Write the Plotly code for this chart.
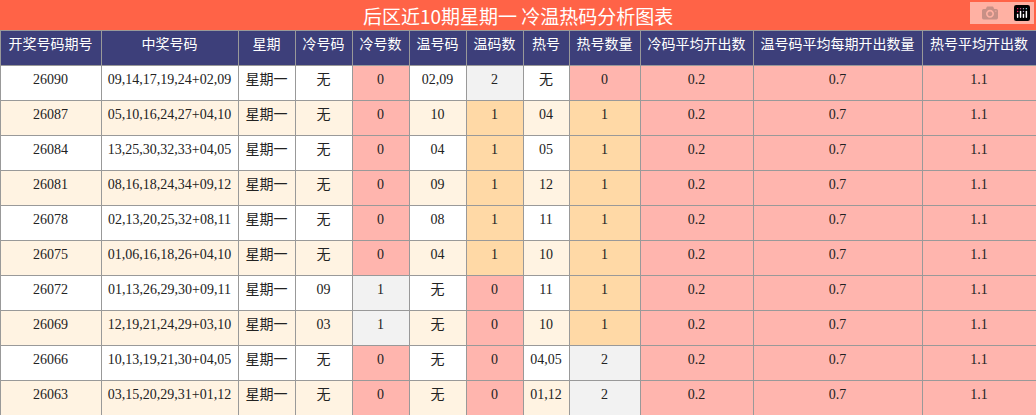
import plotly.graph_objects as go

headers = ["开奖号码期号","中奖号码","星期","冷号码","冷号数","温号码","温码数","热号","热号数量","冷码平均开出数","温号码平均每期开出数量","热号平均开出数"]
issues = ["26090","26087","26084","26081","26078","26075","26072","26069","26066","26063"]
numbers = ["09,14,17,19,24+02,09","05,10,16,24,27+04,10","13,25,30,32,33+04,05","08,16,18,24,34+09,12","02,13,20,25,32+08,11","01,06,16,18,26+04,10","01,13,26,29,30+09,11","12,19,21,24,29+03,10","10,13,19,21,30+04,05","03,15,20,29,31+01,12"]
weekday = ["星期一"]*10
cold = ["无","无","无","无","无","无","09","03","无","无"]
cold_n = [0,0,0,0,0,0,1,1,0,0]
warm = ["02,09","10","04","09","08","04","无","无","无","无"]
warm_n = [2,1,1,1,1,1,0,0,0,0]
hot = ["无","04","05","12","11","10","11","10","04,05","01,12"]
hot_n = [0,1,1,1,1,1,1,1,2,2]
cold_avg = ["0.2"]*10
warm_avg = ["0.7"]*10
hot_avg = ["1.1"]*10
title = "后区近10期星期一 冷温热码分析图表"

widths = [101,137,57,57,57,57,57,46,71,113,169,114]
PINK, ORANGE, GRAY = "#FFB5AE", "#FFD9A6", "#F2F2F2"
base = ["#FFFFFF" if i % 2 == 0 else "#FFF3E2" for i in range(10)]
def cnt_col(vals):
    return [PINK if v == 0 else (ORANGE if v == 1 else GRAY) for v in vals]
cold_col = [PINK if v == 0 else GRAY for v in cold_n]
fills = [base, base, base, base, cold_col, base, cnt_col(warm_n), base, cnt_col(hot_n), [PINK]*10, [PINK]*10, [PINK]*10]

fig = go.Figure(go.Table(
    columnwidth=widths,
    domain=dict(x=[0, 1], y=[0, 385/415]),
    header=dict(values=headers, height=35, fill_color="#3D3F7A",
                line_color="#999999", align="center",
                font=dict(color="white", size=14, family="Noto Sans CJK SC")),
    cells=dict(values=[issues, numbers, weekday, cold, [str(v) for v in cold_n], warm,
                       [str(v) for v in warm_n], hot, [str(v) for v in hot_n], cold_avg, warm_avg, hot_avg],
               height=35, fill_color=fills, line_color="#999999", align="center",
               font=dict(color="#222222", size=14, family="Liberation Serif, Noto Sans CJK SC"))
))
fig.add_shape(type="rect", xref="paper", yref="paper", x0=0, x1=1, y0=385/415, y1=1,
              fillcolor="#FF6347", line_width=0, layer="below")
fig.add_annotation(text=title, xref="paper", yref="paper", x=0.5, y=400/415, showarrow=False,
                   font=dict(color="white", size=19, family="Noto Sans CJK SC"), yanchor="middle")
fig.update_layout(width=1036, height=415, margin=dict(l=0, r=0, t=0, b=0),
                  paper_bgcolor="white")
fig.write_html("out.html")

with open("out.html", encoding="utf-8") as f:
    html = f.read()
html = html.replace("<head>", "<head><style>html,body{margin:0;padding:0;overflow:hidden;}</style>", 1)
with open("out.html", "w", encoding="utf-8") as f:
    f.write(html)
